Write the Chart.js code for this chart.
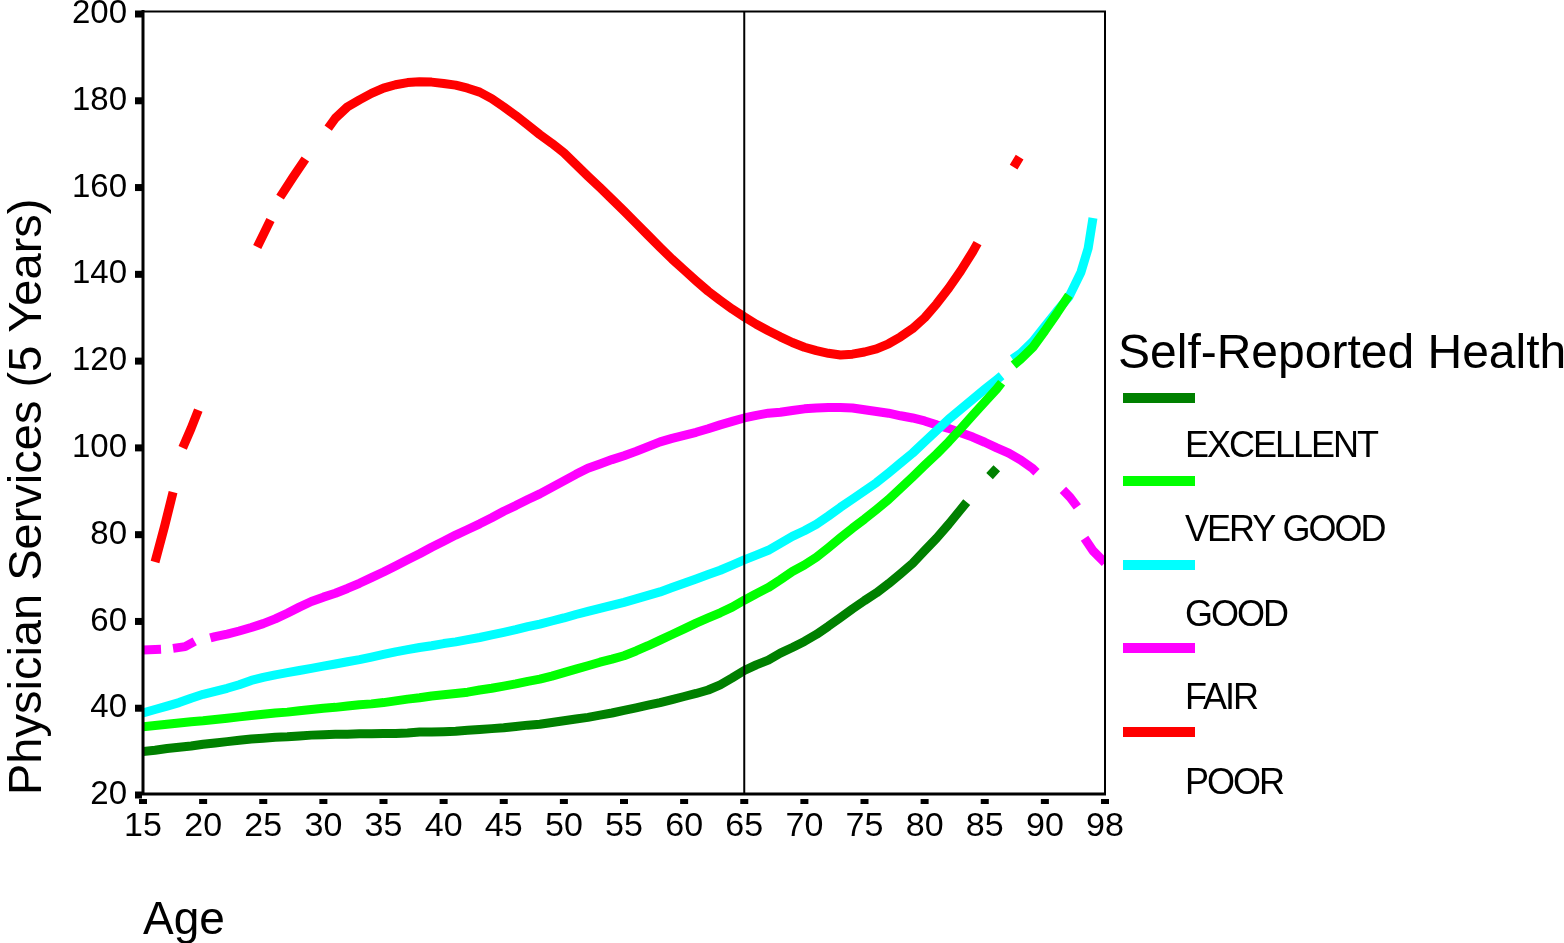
<!DOCTYPE html>
<html>
<head>
<meta charset="utf-8">
<script src="https://cdn.jsdelivr.net/npm/chart.js@4.4.1/dist/chart.umd.min.js"></script>
<style>
  html, body { margin: 0; padding: 0; background: #fff; }
  #wrap { width: 1564px; height: 943px; }
</style>
</head>
<body>
<div id="wrap"><canvas id="c" width="1564" height="943"></canvas></div>
<script>
// ---- Data (x = age position on the axis; last tick position 95 is labelled "98") ----
const X_TICKS = [15, 20, 25, 30, 35, 40, 45, 50, 55, 60, 65, 70, 75, 80, 85, 90, 95];
const X_TICK_LABELS = ['15','20','25','30','35','40','45','50','55','60','65','70','75','80','85','90','98'];
const Y_TICKS = [20, 40, 60, 80, 100, 120, 140, 160, 180, 200];
const REF_AGE = 65;

const SERIES_NAMES = ['EXCELLENT', 'VERY GOOD', 'GOOD', 'FAIR', 'POOR'];
const SERIES_COLORS = ['#008000', '#00ff00', '#00ffff', '#ff00ff', '#ff0000'];

// EXCELLENT
const excellentAge = [
  15,16,17,18,19,20,21,22,23,24,
  25,26,27,28,29,30,31,32,33,34,
  35,36,37,38,39,40,41,42,43,44,
  45,46,47,48,49,50,51,52,53,54,
  55,56,57,58,59,60,61,62,63,64,
  65,66,67,68,69,70,71,72,73,74,
  75,76,77,78,79,80,81,82,83,83.5,
  84.5,85.4,86];
const excellentVal = [
  30,30.3,30.7,31,31.3,31.7,32,32.3,32.6,32.9,
  33.1,33.3,33.4,33.6,33.8,33.9,34,34,34.1,34.1,
  34.2,34.2,34.3,34.5,34.5,34.6,34.7,34.9,35.1,35.3,
  35.5,35.8,36.1,36.3,36.7,37.1,37.5,37.9,38.4,38.9,
  39.5,40.1,40.7,41.3,42,42.7,43.4,44.2,45.4,47,
  48.7,50,51.1,52.7,54,55.4,57,58.9,60.9,62.9,
  64.8,66.6,68.7,71,73.4,76.3,79.2,82.4,85.8,87.5,
  null,93.5,95.3];

// VERY GOOD
const veryGoodAge = [
  15,16,17,18,19,20,21,22,23,24,
  25,26,27,28,29,30,31,32,33,34,
  35,36,37,38,39,40,41,42,43,44,
  45,46,47,48,49,50,51,52,53,54,
  55,56,57,58,59,60,61,62,63,64,
  65,66,67,68,69,70,71,72,73,74,
  75,76,77,78,79,80,81,82,83,84,
  85,86,86.4,86.9,87.4,88,89,90,91,92];
const veryGoodVal = [
  35.7,36,36.3,36.6,36.9,37.1,37.4,37.7,38,38.3,
  38.6,38.9,39.1,39.4,39.7,40,40.2,40.5,40.8,41,
  41.3,41.7,42.1,42.4,42.8,43.1,43.4,43.7,44.2,44.6,
  45.1,45.6,46.2,46.7,47.4,48.2,49,49.8,50.6,51.3,
  52.1,53.2,54.4,55.7,57,58.3,59.6,60.8,62,63.3,
  64.9,66.4,67.8,69.6,71.5,73,74.8,77,79.3,81.5,
  83.6,85.8,88.1,90.7,93.3,96,98.6,101.4,104.4,107.5,
  110.6,113.6,115,null,119.1,120.5,123.2,127,131,135.2];

// GOOD
const goodAge = [
  15,16,17,18,19,20,21,22,23,24,
  25,26,27,28,29,30,31,32,33,34,
  35,36,37,38,39,40,41,42,43,44,
  45,46,47,48,49,50,51,52,53,54,
  55,56,57,58,59,60,61,62,63,64,
  65,66,67,68,69,70,71,72,73,74,
  75,76,77,78,79,80,81,82,83,84,
  85,86,86.4,86.8,87.3,88,89,90,91,92,
  93,93.6,94];
const goodVal = [
  38.9,39.7,40.5,41.3,42.3,43.2,43.9,44.6,45.4,46.4,
  47.1,47.7,48.2,48.7,49.2,49.7,50.2,50.7,51.2,51.8,
  52.4,53,53.5,54,54.4,54.9,55.3,55.8,56.3,56.9,
  57.5,58.1,58.8,59.4,60.1,60.8,61.6,62.3,63,63.7,
  64.4,65.2,66,66.8,67.8,68.8,69.8,70.8,71.8,73,
  74.2,75.3,76.4,78,79.6,80.9,82.4,84.3,86.3,88.2,
  90.1,92,94.2,96.5,98.8,101.4,104,106.6,108.9,111.2,
  113.5,115.7,116.6,null,120.5,121.8,124.5,128,131.5,134.8,
  140.5,146,153];

// FAIR
const fairAge = [
  15,16.5,17,17.5,18.5,19.3,20,
  20.6,21,22,23,24,25,26,27,28,29,30,31,32,33,34,
  35,36,37,38,39,40,41,42,43,44,
  45,46,47,48,49,50,51,52,53,54,
  55,56,57,58,59,60,61,62,63,64,
  65,66,67,68,69,70,71,72,73,74,
  75,76,77,78,79,80,81,82,83,84,
  85,86,87,88,89,89.3,90.4,
  91.5,92.1,92.7,93,
  93.3,94,95];
const fairVal = [
  53.4,53.6,null,53.8,54.2,55.4,null,
  56.2,56.5,57.1,57.8,58.6,59.5,60.6,61.9,63.3,64.6,65.6,66.5,67.6,68.8,70.1,
  71.4,72.8,74.2,75.6,77.1,78.5,79.9,81.2,82.5,83.9,
  85.4,86.7,88.1,89.4,90.9,92.4,93.9,95.3,96.3,97.3,
  98.2,99.2,100.3,101.4,102.2,102.9,103.6,104.4,105.3,106.1,
  106.9,107.5,108,108.2,108.6,109,109.2,109.3,109.3,109.2,
  108.8,108.4,108,107.4,106.9,106.2,105.3,104.5,103.5,102.5,
  101.3,100,98.8,97.2,95.2,94.4,null,
  90.3,88.6,86.4,null,
  79.2,76.3,73.5];

// POOR
const poorAge = [
  16,16.8,17.5,17.9,
  18.3,19,19.6,22,
  24.5,25.6,26,
  26.4,27.5,28.5,29.5,
  30.4,31,32,33,34,35,36,37,38,39,
  40,41,42,43,44,45,46,47,48,49,
  50,51,52,53,54,55,56,57,58,59,
  60,61,62,63,64,65,66,67,68,69,
  70,71,72,73,74,75,76,77,78,79,
  80,81,82,83,84,84.4,86,
  87.4,87.9];
const poorVal = [
  73.7,82,89.8,null,
  100,104.5,108.7,null,
  146.3,152.5,null,
  157.8,162.5,166.6,null,
  173.7,176,178.6,180.2,181.7,182.9,183.7,184.2,184.4,184.3,
  184,183.6,182.9,182,180.5,178.6,176.6,174.4,172.2,170.2,
  168,165.3,162.6,160,157.3,154.6,151.8,149,146.2,143.5,
  141,138.5,136.1,134,132,130.2,128.5,127,125.6,124.3,
  123.2,122.4,121.8,121.4,121.6,122.1,122.8,124,125.6,127.5,
  130,133.2,136.8,140.8,145.2,147.2,null,
  164.7,167];

const AGES = [excellentAge, veryGoodAge, goodAge, fairAge, poorAge];
const VALUES = [excellentVal, veryGoodVal, goodVal, fairVal, poorVal];

// ---- Chart ----
const FONT = '"Liberation Sans", Arial, Helvetica, sans-serif';
Chart.defaults.font.family = FONT;
Chart.defaults.color = '#000';

const datasets = SERIES_NAMES.map((name, i) => ({
  label: name,
  data: AGES[i].map((a, j) => ({ x: a, y: VALUES[i][j] })),
  borderColor: SERIES_COLORS[i],
  backgroundColor: SERIES_COLORS[i],
  borderWidth: 9,
  pointRadius: 0,
  tension: 0,
  spanGaps: false,
  borderCapStyle: 'butt',
  borderJoinStyle: 'round',
  fill: false
}));

const framePlugin = {
  id: 'frame',
  afterDraw(chart) {
    const ctx = chart.ctx;
    const a = chart.chartArea;
    const xs = chart.scales.x, ys = chart.scales.y;
    ctx.save();
    ctx.fillStyle = '#000';
    ctx.strokeStyle = '#000';
    // reference line at age 65
    const rx = xs.getPixelForValue(REF_AGE);
    ctx.lineWidth = 2;
    ctx.beginPath(); ctx.moveTo(rx, 11); ctx.lineTo(rx, a.bottom); ctx.stroke();
    // frame: top & right thin
    ctx.beginPath(); ctx.moveTo(a.left, 11.5); ctx.lineTo(a.right + 1, 11.5); ctx.stroke();
    ctx.beginPath(); ctx.moveTo(a.right, 11.5); ctx.lineTo(a.right, a.bottom); ctx.stroke();
    // left & bottom thicker
    ctx.lineWidth = 3;
    ctx.beginPath(); ctx.moveTo(a.left, 10); ctx.lineTo(a.left, a.bottom); ctx.stroke();
    ctx.beginPath(); ctx.moveTo(a.left - 1.5, a.bottom - 1); ctx.lineTo(a.right + 1, a.bottom - 1); ctx.stroke();
    // y tick marks
    Y_TICKS.forEach(v => {
      const y = ys.getPixelForValue(v);
      ctx.fillRect(a.left - 8, y - 3.5, 7, 7);
    });
    // x tick marks
    X_TICKS.forEach(v => {
      const x = xs.getPixelForValue(v);
      ctx.fillRect(x - 4, a.bottom + 4, 8, 5);
    });
    // legend
    ctx.textAlign = 'left';
    ctx.textBaseline = 'middle';
    ctx.font = '48px ' + FONT;
    ctx.fillText('Self-Reported Health', 1118, 355);
    const swatchY = [398, 481, 565, 648, 732];
    const labelY = [447, 531, 616, 699, 784];
    ctx.font = '36px ' + FONT;
    if ('letterSpacing' in ctx) ctx.letterSpacing = '-2px';
    SERIES_NAMES.forEach((n, i) => {
      ctx.fillStyle = SERIES_COLORS[i];
      ctx.fillRect(1123, swatchY[i] - 5, 72, 10);
      ctx.fillStyle = '#000';
      ctx.fillText(n, 1185, labelY[i]);
    });
    ctx.restore();
  }
};

new Chart(document.getElementById('c'), {
  type: 'line',
  data: { datasets },
  options: {
    responsive: false,
    animation: false,
    devicePixelRatio: 1,
    layout: { padding: { left: 0, right: 459, top: 14, bottom: 0 } },
    plugins: { legend: { display: false }, tooltip: { enabled: false } },
    scales: {
      x: {
        type: 'linear', min: 15, max: 95,
        afterFit(s) { s.height = 148; s.paddingLeft = 0; s.paddingRight = 0; },
        afterBuildTicks(s) { s.ticks = X_TICKS.map(v => ({ value: v })); },
        ticks: {
          autoSkip: false, maxRotation: 0, padding: 11,
          font: { size: 34 }, color: '#000',
          callback: (v) => X_TICK_LABELS[X_TICKS.indexOf(v)]
        },
        grid: { display: false, drawTicks: false },
        border: { display: false },
        title: { display: true, text: 'Age', align: 'start', color: '#000',
                 font: { size: 46 }, padding: { top: 0, bottom: -6 } }
      },
      y: {
        type: 'linear', min: 20, max: 200,
        afterFit(s) { s.width = 143; s.paddingTop = 0; s.paddingBottom = 0; },
        afterBuildTicks(s) { s.ticks = Y_TICKS.map(v => ({ value: v })); },
        ticks: { padding: 16, font: { size: 33 }, color: '#000' },
        grid: { display: false, drawTicks: false },
        border: { display: false },
        title: { display: true, text: 'Physician Services (5 Years)', align: 'start',
                 color: '#000', font: { size: 47 }, padding: 0 }
      }
    }
  },
  plugins: [framePlugin]
});
</script>
</body>
</html>
